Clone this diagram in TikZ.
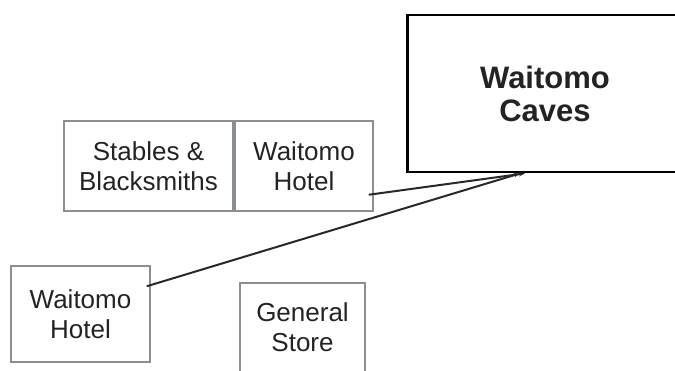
\documentclass[tikz,border=0pt]{standalone}
\usepackage{fontspec}
\setmainfont{Liberation Sans}
\usepackage{xcolor}
\usepackage{tikz}
\usetikzlibrary{arrows.meta,positioning}
\definecolor{siteframe}{RGB}{138,143,148}
\definecolor{sitetext}{RGB}{35,35,35}
\definecolor{linkdark}{RGB}{40,40,40}

\begin{document}
\begin{tikzpicture}[x=1pt, y=-1pt, >=Stealth,
    site/.style={draw=siteframe, line width=1.5pt, text=sitetext, align=center,
      inner sep=0pt, font=\fontsize{26}{30}\selectfont},
    cave/.style={draw=black, line width=2.8pt, text=sitetext, align=center,
      inner sep=0pt, font=\bfseries\fontsize{31}{33}\selectfont},
    link/.style={draw=linkdark, line width=2pt, -{Stealth[length=6pt,width=4pt]}}]
  \useasboundingbox (0,0) rectangle (675,371);
  \clip (0,0) rectangle (675,371);

  % Main site: the caves (runs off the right edge)
  \node[cave, minimum width=300pt, minimum height=157pt, anchor=west] (caves) at (406,93.5) {};
  \node[cave, draw=none] (cavesname) at (545,93.5) {Waitomo\\Caves};

  % Upper row: stables and hotel side by side
  \node[site, minimum width=169pt, minimum height=90pt] (stables) at (148.5,166) {Stables \&\\Blacksmiths};
  \node[site, minimum width=138pt, minimum height=90pt] (hotelA) at (304,166) {Waitomo\\Hotel};

  % Lower row: second hotel and the store
  \node[site, minimum width=139pt, minimum height=96pt] (hotelB) at (80.5,314) {Waitomo\\Hotel};
  \node[site, minimum width=125pt, minimum height=89pt] (store) at (302.5,327.5) {General\\Store};

  % Links from both hotels to the caves
  \draw[link] ([xshift=-5pt,yshift=17pt]hotelA.south east) -- ([xshift=-20pt]cavesname.south |- caves.south);
  \draw[link] ([xshift=-4pt,yshift=-21pt]hotelB.north east) -- ([xshift=-25pt]cavesname.south |- caves.south);
\end{tikzpicture}
\end{document}
